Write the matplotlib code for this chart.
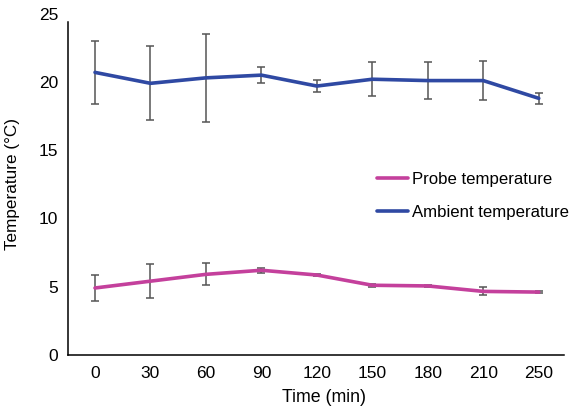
import matplotlib
matplotlib.use("Agg")
import matplotlib.pyplot as plt
import numpy as np

plt.rcParams['font.family'] = ['Liberation Sans', 'DejaVu Sans']

# data
times = ['0', '30', '60', '90', '120', '150', '180', '210', '250']
ambient = [20.7, 19.9, 20.3, 20.5, 19.7, 20.2, 20.1, 20.1, 18.8]
ambient_err = [2.3, 2.7, 3.2, 0.6, 0.45, 1.25, 1.35, 1.4, 0.4]
probe = [4.9, 5.4, 5.9, 6.2, 5.85, 5.1, 5.05, 4.65, 4.6]
probe_err = [0.95, 1.25, 0.8, 0.2, 0.1, 0.12, 0.1, 0.3, 0.1]

blue = '#2f49a3'
pink = '#c4409c'
grey = '#555555'

fig = plt.figure(figsize=(5.7, 4.16), dpi=100)
ax = fig.add_axes([0.119, 0.147, 0.870, 0.820])

x = np.arange(len(times))

# error bars under the lines
ax.errorbar(x, ambient, yerr=ambient_err, fmt='none', ecolor=grey,
            elinewidth=1.1, capsize=3, capthick=1.1, zorder=2)
ax.errorbar(x, probe, yerr=probe_err, fmt='none', ecolor=grey,
            elinewidth=1.1, capsize=3, capthick=1.1, zorder=2)

ax.plot(x, probe, color=pink, lw=2.6, label='Probe temperature', zorder=3,
        solid_capstyle='round')
ax.plot(x, ambient, color=blue, lw=2.6, label='Ambient temperature', zorder=3,
        solid_capstyle='round')

ax.set_xlim(-0.49, 8.45)
ax.set_ylim(0, 25)
ax.set_xticks(x)
ax.set_xticklabels(times)
ax.set_yticks([0, 5, 10, 15, 20, 25])
ax.tick_params(length=0, labelsize=12.5, pad=8)
ax.tick_params(axis='y', pad=7)

ax.spines['top'].set_visible(False)
ax.spines['right'].set_visible(False)
ax.spines['left'].set_bounds(0, 24.4)
for s in ('left', 'bottom'):
    ax.spines[s].set_linewidth(1.1)

ax.set_xlabel('Time (min)', fontsize=12.8)
ax.set_ylabel('Temperature (\u00b0C)', fontsize=12.3)
ax.xaxis.set_label_coords(0.517, -0.10)
ax.yaxis.set_label_coords(-0.096, 0.5)

ax.legend(loc='upper left', bbox_to_anchor=(0.592, 0.581), frameon=False,
          fontsize=12.1, handlelength=1.85, handletextpad=0.25, labelspacing=1.1)

fig.savefig('out.png', dpi=100)
